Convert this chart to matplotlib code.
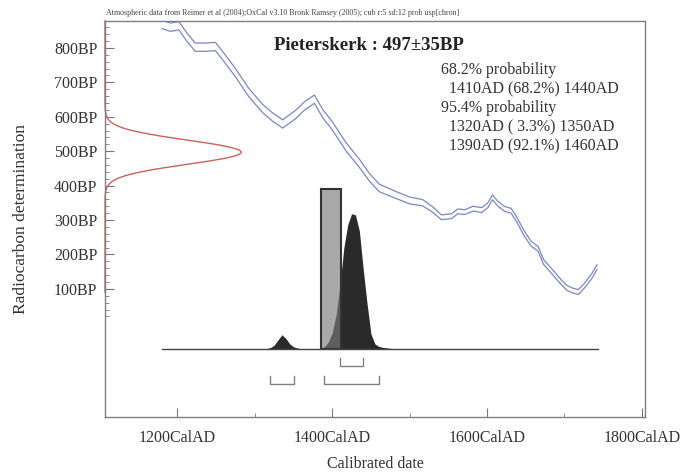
import matplotlib.pyplot as plt
import numpy as np
from matplotlib.ticker import FixedLocator

plt.rcParams['font.family'] = ['Liberation Serif', 'DejaVu Serif']

# Measurement
sample_name = 'Pieterskerk'
c14_age = 497
c14_err = 35

# Calibration curve (cal AD, BP)
cal_years = [1180, 1191, 1202, 1212, 1223, 1236, 1249, 1258, 1275, 1292,
             1310, 1323, 1336, 1353, 1364, 1377, 1388, 1400, 1418, 1435,
             1448, 1461, 1482, 1500, 1517, 1530, 1541, 1554, 1562, 1571,
             1582, 1593, 1601, 1607, 1614, 1623, 1631, 1638, 1647, 1657,
             1666, 1673, 1683, 1692, 1703, 1711, 1718, 1726, 1735, 1742]
cal_bp = [868, 860, 864, 832, 802, 802, 804, 779, 728, 671,
          624, 599, 579, 607, 631, 651, 608, 574, 512, 465,
          424, 393, 373, 357, 350, 330, 308, 311, 325, 323,
          333, 329, 343, 366, 347, 332, 327, 303, 265, 231,
          216, 178, 153, 129, 103, 95, 91, 110, 136, 163]
cal_err = [12, 12, 12, 12, 12, 12, 12, 12, 12, 12,
           12, 12, 12, 12, 12, 12, 12, 12, 12, 12,
           11, 11, 10, 10, 9, 8, 7, 7, 7, 7,
           7, 7, 7, 7, 7, 7, 7, 7, 7, 7,
           7, 7, 7, 7, 7, 7, 7, 7, 7, 7]

# Calibrated probability (relative to peak)
dist_years = [1310, 1315, 1320, 1325, 1330, 1335, 1340, 1345, 1350, 1355,
              1360, 1365, 1380, 1385, 1390, 1395, 1400, 1405, 1410, 1415,
              1420, 1425, 1430, 1435, 1440, 1445, 1450, 1455, 1460, 1465,
              1470, 1475, 1480]
dist_prob = [0, .002, .009, .026, .066, .103, .077, .037, .015, .006,
             .001, 0, 0, .004, .015, .051, .118, .25, .47, .743,
             .912, .993, .985, .868, .588, .331, .11, .037, .018, .011,
             .007, .004, 0]

# Prior (uniform span) drawn as a box
prior_start = 1386
prior_end = 1411
prior_height = 1.176

# Ranges
ranges_68 = [(1410, 1440)]
ranges_95 = [(1320, 1350), (1390, 1460)]
legend_lines = ['68.2% probability',
                '  1410AD (68.2%) 1440AD',
                '95.4% probability',
                '  1320AD ( 3.3%) 1350AD',
                '  1390AD (92.1%) 1460AD']

header = ('Atmospheric data from Reimer et al (2004);OxCal v3.10 Bronk Ramsey (2005); '
          'cub r:5 sd:12 prob usp[chron]')

W, H = 682, 474
fig = plt.figure(figsize=(W / 100, H / 100), dpi=100)
ax = fig.add_axes([105 / W, 1 - 417 / H, 540 / W, 396 / H])
xmin, xmax = 1106.5, 1804
ax.set_xlim(xmin, xmax)
ax.set_ylim(-272, 878)

# calibration curve
cy = np.array(cal_years)
cb = np.array(cal_bp)
ce = np.array(cal_err)
blue = '#7a86c8'
ax.plot(cy, cb + ce, color=blue, lw=0.9)
ax.plot(cy, cb - ce, color=blue, lw=0.9)

# radiocarbon measurement on the y axis
bp = np.linspace(90, 878, 400)
g = np.exp(-0.5 * ((bp - c14_age) / c14_err) ** 2)
ax.plot(xmin + 176 * g, bp, color='#d06060', lw=1, clip_on=False)

# calibrated distribution
base = -74
scale = 395
ax.plot([1180, 1743], [base, base], color='#444444', lw=1)
ax.fill_between(dist_years, base, base + np.array(dist_prob) * scale,
                color='#2a2a2a', lw=0)
ax.bar(prior_start, prior_height * scale, width=prior_end - prior_start,
       bottom=base, align='edge', facecolor='#7c7c7c', alpha=0.65,
       edgecolor='none')
ax.bar(prior_start, prior_height * scale, width=prior_end - prior_start,
       bottom=base, align='edge', facecolor='none', edgecolor='#333333', lw=1.5)

# range brackets
def bracket(a, b, top, bot):
    ax.plot([a, a, b, b], [top, bot, bot, top], color='#808080', lw=1)

for a, b in ranges_68:
    bracket(a, b, -101, -124)
for a, b in ranges_95:
    bracket(a, b, -152, -175)

# axes styling
for s in ax.spines.values():
    s.set_color('#808080')
    s.set_linewidth(1)
ax.xaxis.set_major_locator(FixedLocator([1200, 1400, 1600, 1800]))
ax.xaxis.set_minor_locator(FixedLocator([1300, 1500, 1700]))
ax.set_xticklabels(['1200CalAD', '1400CalAD', '1600CalAD', '1800CalAD'])
yt = [100, 200, 300, 400, 500, 600, 700, 800]
ax.yaxis.set_major_locator(FixedLocator(yt))
ax.yaxis.set_minor_locator(FixedLocator([v for v in range(20, 880, 20) if v % 100]))
ax.set_yticklabels([f'{v}BP' for v in yt])
ax.tick_params(which='both', direction='in', color='#777777', labelcolor='#333333',
               labelsize=11.5)
ax.tick_params(which='major', length=6.5)
ax.tick_params(which='minor', length=3)
ax.tick_params(axis='x', pad=9)
ax.tick_params(axis='y', pad=5.5)

ax.set_xlabel('Calibrated date', fontsize=11.5, color='#333333')
ax.set_ylabel('Radiocarbon determination', fontsize=12.5, color='#333333')
ax.xaxis.set_label_coords(0.5, -0.098)
ax.yaxis.set_label_coords(-0.141, 0.5)

fig.text(106 / W, 1 - 12.7 / H, header, fontsize=5.8, color='#444444',
         ha='left', va='center')
fig.text(274 / W, 1 - 45 / H, f'{sample_name} : {c14_age}\u00b1{c14_err}BP',
         fontsize=13.5, weight='bold', color='#222222', ha='left', va='center')
for i, line in enumerate(legend_lines):
    fig.text(440.7 / W, 1 - (70 + 19 * i) / H, line, fontsize=11.5,
             color='#333333', ha='left', va='center')

fig.savefig('out.png', dpi=100)
